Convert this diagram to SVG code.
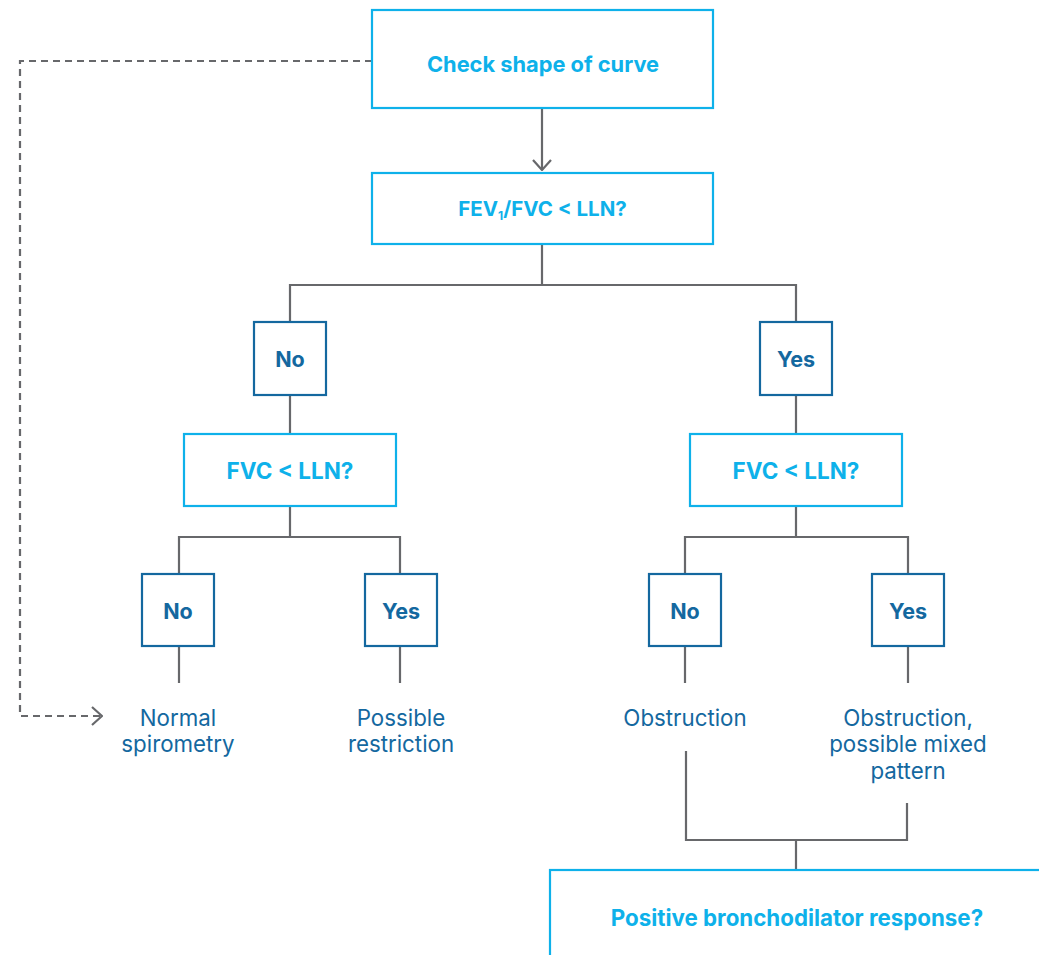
<svg xmlns="http://www.w3.org/2000/svg" width="1039" height="955" viewBox="0 0 1039 955">
<defs>
<style>
.q{fill:#fff;stroke:#0eb1ea;stroke-width:2.2}
.a{fill:#fff;stroke:#14689f;stroke-width:2.2}
.qt{font-family:Inter,"Liberation Sans",sans-serif;font-weight:700;fill:#0eb1ea;text-anchor:middle}
.at{font-family:Inter,"Liberation Sans",sans-serif;font-weight:700;fill:#14689f;text-anchor:middle;font-size:21.5px}
.rt{font-family:Inter,"Liberation Sans",sans-serif;font-weight:400;fill:#14689f;text-anchor:middle;font-size:22.3px}
.ln{fill:none;stroke:#67686b;stroke-width:2.2}
.dash{fill:none;stroke:#67686b;stroke-width:2.2;stroke-dasharray:7 5}
</style>
<marker id="arr" viewBox="0 0 12 20" refX="11" refY="10" markerWidth="12" markerHeight="20" markerUnits="userSpaceOnUse" orient="auto">
<path d="M1 1 L11 10 L1 19" fill="none" stroke="#67686b" stroke-width="2.2"/>
</marker>
</defs>
<rect width="1039" height="955" fill="#fff"/>
<g id="connectors">
<path class="dash" d="M372 61 H20 V716 H102" marker-end="url(#arr)"/>
<path class="ln" d="M542 109 V170" marker-end="url(#arr)"/>
<path class="ln" d="M542 245 V285 M290 322 V285 H796 V322"/>
<path class="ln" d="M290 396 V434 M796 396 V434"/>
<path class="ln" d="M290 507 V537 M179 574 V537 H400 V574"/>
<path class="ln" d="M796 507 V537 M685 574 V537 H908 V574"/>
<path class="ln" d="M179 647 V683 M400 647 V683 M685 647 V683 M908 647 V683"/>
<path class="ln" d="M686 751 V840 H907 V803 M796 840 V870"/>
</g>
<g id="check"><rect class="q" x="372" y="10" width="341" height="98"/><text class="qt" x="543" y="72" font-size="21.8">Check shape of curve</text></g>
<g id="fev"><rect class="q" x="372" y="173" width="341" height="71"/><text class="qt" x="542.5" y="216" font-size="20.5">FEV<tspan font-size="12" dy="4">1</tspan><tspan dy="-4">/FVC &lt; LLN?</tspan></text></g>
<g id="no1"><rect class="a" x="254" y="322" width="72" height="73"/><text class="at" x="290" y="367">No</text></g>
<g id="yes1"><rect class="a" x="760" y="322" width="72" height="73"/><text class="at" x="796" y="367">Yes</text></g>
<g id="fvcL"><rect class="q" x="184" y="434" width="212" height="72"/><text class="qt" x="290" y="479" font-size="22.5">FVC &lt; LLN?</text></g>
<g id="fvcR"><rect class="q" x="690" y="434" width="212" height="72"/><text class="qt" x="796" y="479" font-size="22.5">FVC &lt; LLN?</text></g>
<g id="no2"><rect class="a" x="142" y="574" width="72" height="72"/><text class="at" x="178" y="619">No</text></g>
<g id="yes2"><rect class="a" x="365" y="574" width="72" height="72"/><text class="at" x="401" y="619">Yes</text></g>
<g id="no3"><rect class="a" x="649" y="574" width="72" height="72"/><text class="at" x="685" y="619">No</text></g>
<g id="yes3"><rect class="a" x="872" y="574" width="72" height="72"/><text class="at" x="908" y="619">Yes</text></g>
<g id="normal"><text class="rt" x="178" y="726">Normal</text><text class="rt" x="178" y="752">spirometry</text></g>
<g id="restriction"><text class="rt" x="401" y="726">Possible</text><text class="rt" x="401" y="752">restriction</text></g>
<g id="obstruction"><text class="rt" x="685" y="726">Obstruction</text></g>
<g id="mixed"><text class="rt" x="908" y="726">Obstruction,</text><text class="rt" x="908" y="752">possible mixed</text><text class="rt" x="908" y="779">pattern</text></g>
<g id="bronch"><rect class="q" x="550" y="870" width="500" height="100"/><text class="qt" x="797" y="926" font-size="22.3">Positive bronchodilator response?</text></g>
</svg>
